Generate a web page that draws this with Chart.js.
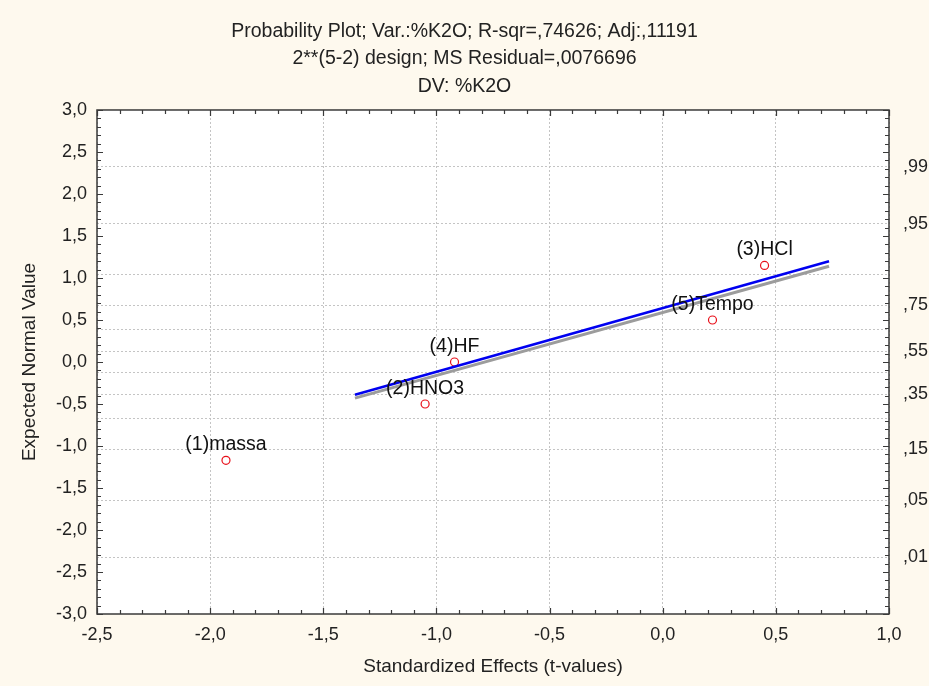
<!DOCTYPE html>
<html>
<head>
<meta charset="utf-8">
<script src="https://cdn.jsdelivr.net/npm/chart.js@4"></script>
<style>
  body { margin: 0; background: #fef9ee; }
  #wrap { width: 929px; height: 686px; }
</style>
</head>
<body>
<div id="wrap"><canvas id="myChart" width="929" height="686"></canvas></div>
<script>
// efeitos e valores normais esperados
const effectNames = ['(1)massa', '(2)HNO3', '(3)HCl', '(4)HF', '(5)Tempo'];
const tValues = [-1.93, -1.05, 0.45, -0.92, 0.22];
const expectedNormal = [-1.17, -0.50, 1.15, 0.00, 0.50];

// reta ajustada (azul) e reta de referencia (cinza)
const lineX = [-1.36, 0.735];
const blueY = [-0.39, 1.20];
const grayY = [-0.43, 1.14];

// eixo da direita: probabilidades
const probZ = [-2.326, -1.645, -1.036, -0.674, -0.385, -0.126, 0.126, 0.385, 0.674, 1.036, 1.645, 2.326];
const probLabels = [',01', ',05', ',15', '', ',35', '', ',55', '', ',75', '', ',95', ',99'];

const titleLines = [
    'Probability Plot; Var.:%K2O; R-sqr=,74626; Adj:,11191',
    '2**(5-2) design; MS Residual=,0076696',
    'DV: %K2O'
];

const FONT = '"Liberation Sans", Arial, sans-serif';
const fmt = v => v.toFixed(1).replace('.', ',');

const fundo = {
    id: 'fundo',
    beforeDraw(chart) {
        const c = chart.ctx, a = chart.chartArea;
        c.save();
        c.fillStyle = '#fef9ee';
        c.fillRect(0, 0, chart.width, chart.height);
        c.fillStyle = '#ffffff';
        c.fillRect(a.left, a.top, a.right - a.left, a.bottom - a.top);
        c.restore();
    }
};

// moldura com marcas para dentro
const moldura = {
    id: 'moldura',
    afterDraw(chart) {
        const c = chart.ctx, a = chart.chartArea;
        const x = chart.scales.x, y = chart.scales.y;
        c.save();
        c.strokeStyle = '#3a3a3a';
        c.lineWidth = 1.5;
        c.strokeRect(a.left, a.top, a.right - a.left, a.bottom - a.top);
        c.lineWidth = 1.2;
        c.beginPath();
        for (let i = -30; i <= 30; i++) {
            const py = Math.round(y.getPixelForValue(i / 10)) + 0.5;
            const len = i % 5 === 0 ? 6 : 4;
            c.moveTo(a.left, py); c.lineTo(a.left + len, py);
            c.moveTo(a.right, py); c.lineTo(a.right - len, py);
        }
        for (let i = -25; i <= 10; i++) {
            const px = Math.round(x.getPixelForValue(i / 10)) + 0.5;
            const len = i % 5 === 0 ? 6 : 4;
            c.moveTo(px, a.bottom); c.lineTo(px, a.bottom - len);
            c.moveTo(px, a.top); c.lineTo(px, a.top + len);
        }
        c.stroke();
        c.restore();
    }
};

const rotulos = {
    id: 'rotulos',
    afterDatasetsDraw(chart) {
        const c = chart.ctx;
        const meta = chart.getDatasetMeta(2);
        c.save();
        c.font = '19.5px ' + FONT;
        c.fillStyle = '#111';
        c.textAlign = 'center';
        c.textBaseline = 'bottom';
        meta.data.forEach((pt, i) => {
            c.fillText(effectNames[i], pt.x, pt.y - 6);
        });
        c.restore();
    }
};

const ctx = document.getElementById('myChart').getContext('2d');
const chart = new Chart(ctx, {
    type: 'scatter',
    data: {
        datasets: [
            {
                type: 'line',
                data: lineX.map((v, i) => ({x: v, y: grayY[i]})),
                borderColor: '#9c9c9c',
                borderWidth: 3,
                pointRadius: 0
            },
            {
                type: 'line',
                data: lineX.map((v, i) => ({x: v, y: blueY[i]})),
                borderColor: '#0000f0',
                borderWidth: 2.5,
                pointRadius: 0
            },
            {
                data: tValues.map((v, i) => ({x: v, y: expectedNormal[i]})),
                pointRadius: 4,
                pointBorderColor: '#e8101a',
                pointBackgroundColor: '#ffffff',
                pointBorderWidth: 1.2
            }
        ]
    },
    options: {
        responsive: false,
        animation: false,
        layout: {padding: 0},
        plugins: {
            legend: {display: false},
            tooltip: {enabled: false},
            title: {
                display: true,
                text: titleLines,
                color: '#222',
                font: {family: FONT, size: 19.5, weight: 'normal', lineHeight: 1.41},
                padding: {top: 17.5, bottom: 10}
            }
        },
        scales: {
            x: {
                type: 'linear',
                min: -2.5, max: 1.0,
                afterBuildTicks: s => { s.ticks = [-2.5, -2, -1.5, -1, -0.5, 0, 0.5, 1].map(v => ({value: v})); },
                afterFit: s => { s.height = 72; },
                ticks: {
                    color: '#222',
                    padding: 10,
                    maxRotation: 0,
                    font: {family: FONT, size: 18},
                    callback: v => fmt(v)
                },
                grid: {color: '#c4c4c4', lineWidth: 1, drawTicks: false},
                border: {display: false, dash: [2, 2]},
                title: {
                    display: true,
                    text: 'Standardized Effects (t-values)',
                    color: '#222',
                    font: {family: FONT, size: 19},
                    padding: {top: 4, bottom: 7.5}
                }
            },
            y: {
                type: 'linear',
                position: 'left',
                min: -3, max: 3,
                afterBuildTicks: s => { s.ticks = [-3, -2.5, -2, -1.5, -1, -0.5, 0, 0.5, 1, 1.5, 2, 2.5, 3].map(v => ({value: v})); },
                afterFit: s => { s.width = 97; },
                ticks: {
                    color: '#222',
                    padding: 10,
                    font: {family: FONT, size: 18},
                    callback: v => fmt(v)
                },
                grid: {display: false, drawTicks: false},
                border: {display: false},
                title: {
                    display: true,
                    text: 'Expected Normal Value',
                    color: '#222',
                    font: {family: FONT, size: 19},
                    padding: {top: 18.5, bottom: 4}
                }
            },
            y2: {
                type: 'linear',
                position: 'right',
                min: -3, max: 3,
                afterBuildTicks: s => { s.ticks = probZ.map(v => ({value: v})); },
                afterFit: s => { s.width = 40; },
                ticks: {
                    color: '#222',
                    padding: 14,
                    autoSkip: false,
                    font: {family: FONT, size: 18},
                    callback: (v, i) => probLabels[i]
                },
                grid: {color: '#c4c4c4', lineWidth: 1, drawTicks: false},
                border: {display: false, dash: [2, 2]}
            }
        }
    },
    plugins: [fundo, rotulos, moldura]
});
</script>
</body>
</html>
